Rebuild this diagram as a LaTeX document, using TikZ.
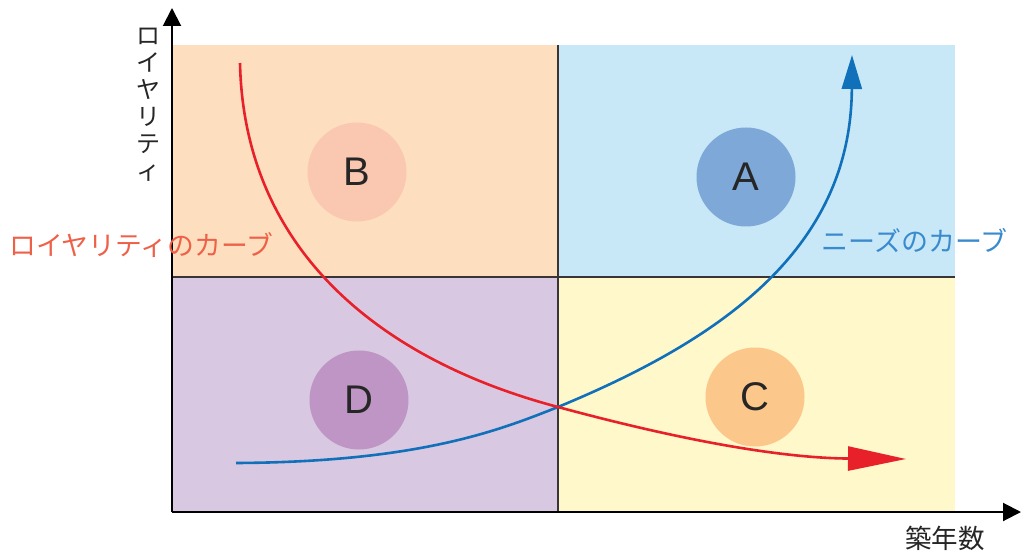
\documentclass[tikz,border=0pt]{standalone}
\usepackage{fontspec}
\newfontfamily\jpfont{Noto Sans CJK JP}
\newfontfamily\latfont{Liberation Sans}
\usetikzlibrary{arrows.meta}
\definecolor{qB}{HTML}{FDDFBF}
\definecolor{qA}{HTML}{C8E8F8}
\definecolor{qD}{HTML}{D9C8E1}
\definecolor{qC}{HTML}{FEF8CA}
\definecolor{cB}{HTML}{FAC8B0}
\definecolor{cA}{HTML}{7EA8D8}
\definecolor{cD}{HTML}{BE95C5}
\definecolor{cC}{HTML}{FBC78A}
\definecolor{redc}{HTML}{E8202A}
\definecolor{bluec}{HTML}{1070BA}
\definecolor{redlab}{HTML}{EE6048}
\definecolor{bluelab}{HTML}{3A8ACE}
\definecolor{divc}{HTML}{3A3436}
\tikzset{
  circ/.style={circle, minimum size=99pt, inner sep=0pt, font=\latfont\fontsize{40}{40}\selectfont, text=black!85},
  axis/.style={line width=2pt, -{Triangle[length=18pt,width=18pt]}},
  divider/.style={line width=1.5pt, draw=divc},
  curve/.style={line width=2.6pt},
  lab/.style={inner sep=0pt}
}
\begin{document}
\begin{tikzpicture}[x=1pt,y=-1pt]
\useasboundingbox (0,0) rectangle (1024,553);
% quadrants
\fill[qB] (172,45) rectangle (558,277);
\fill[qA] (558,45) rectangle (955,277);
\fill[qD] (172,277) rectangle (558,512);
\fill[qC] (558,277) rectangle (955,512);
% circles
\node[circ, fill=cB] (B) at (357,172) {B};
\node[circ, fill=cA] (A) at (746,177) {A};
\node[circ, fill=cD] (D) at (359,400) {D};
\node[circ, fill=cC] (C) at (755,397) {C};
% dividers
\coordinate (mt) at (558,45);
\coordinate (mb) at (558,512);
\coordinate (hl) at (172,277);
\coordinate (hr) at (955,277);
\draw[divider] (mt) -- (mb);
\draw[divider] (hl) -- (hr);
% axes
\coordinate (O) at (172,512);
\coordinate (Ytip) at (172,8);
\coordinate (Xtip) at (1021,512);
\draw[axis] (O) -- (Ytip);
\draw[axis] (O) -- (Xtip);
% curves
\coordinate (X) at (558,407);
\coordinate (rs) at (240,63);
\coordinate (re) at (906,459);
\coordinate (bs) at (236,463);
\coordinate (be) at (852,55);
\draw[curve, draw=bluec, -{Triangle[length=34pt,width=20pt]}] (bs) .. controls (420,462) and (500,430) .. (X) .. controls (720,340) and (851,250) .. (be);
\draw[curve, draw=redc, -{Triangle[length=58pt,width=24pt]}] (rs) .. controls (244,250) and (380,360) .. (X) .. controls (680,440) and (780,458) .. (re);
% labels
\node[lab, text=black!85, align=center, font=\jpfont\fontsize{24}{27}\selectfont] (ylab) at (148,105) {ロ\\イ\\ヤ\\リ\\テ\\ィ};
\node[lab, text=black!85, font=\jpfont\fontsize{26.5}{26.5}\selectfont] (xlab) at (945,538) {築年数};
\node[lab, text=redlab, font=\jpfont\fontsize{26.8}{26.8}\selectfont, anchor=west] (rlab) at (9,245) {ロイヤリティのカーブ};
\node[lab, text=bluelab, font=\jpfont\fontsize{27}{27}\selectfont, anchor=east] (blab) at (1008,241) {ニーズのカーブ};
\end{tikzpicture}
\end{document}
